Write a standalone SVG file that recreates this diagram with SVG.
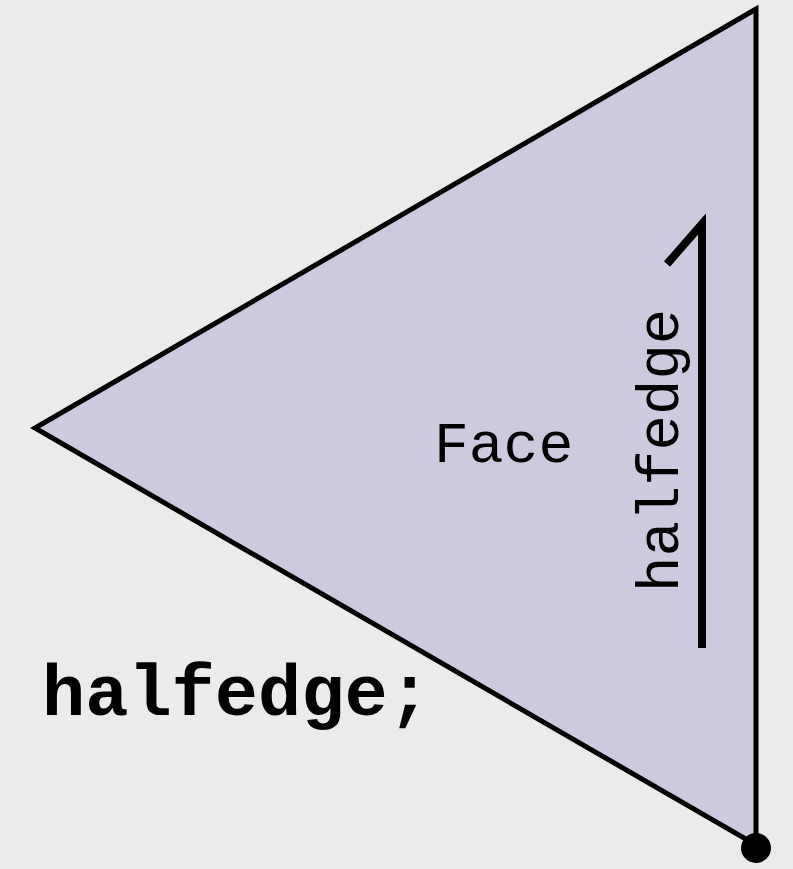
<svg xmlns="http://www.w3.org/2000/svg" width="793" height="869" viewBox="0 0 793 869">
<style>
.mono{font-family:"Liberation Mono","Courier New",monospace;fill:#000}
</style>
<rect width="793" height="869" fill="#ebebeb"/>
<g id="face">
<polygon points="756,9 35,428 756,845" fill="#cbcadf" stroke="#000" stroke-width="5" stroke-linejoin="miter"/>
<text class="mono" x="434" y="462" font-size="58">Face</text>
</g>
<g id="vertex">
<circle cx="756" cy="848" r="15" fill="#000"/>
</g>
<g id="connectors">
<path d="M702,648 V224 L667,264" fill="none" stroke="#000" stroke-width="8"/>
<text class="mono" transform="translate(678,592) rotate(-90)" font-size="59">halfedge</text>
</g>
<g id="label">
<text class="mono" x="42" y="715" font-size="72" font-weight="bold">halfedge;</text>
</g>
</svg>
